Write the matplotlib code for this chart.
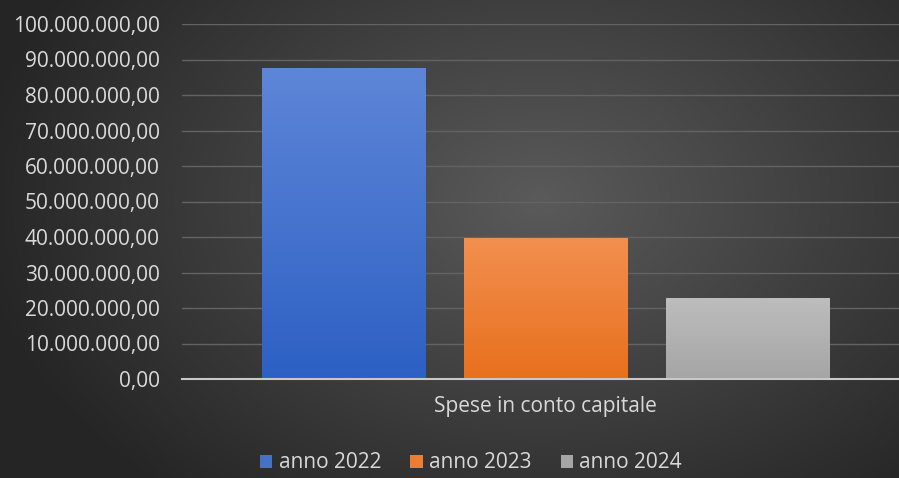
import numpy as np
import matplotlib
matplotlib.use("Agg")
import matplotlib.pyplot as plt
from matplotlib.patches import Patch
from matplotlib.ticker import FuncFormatter, MultipleLocator

categories = ["Spese in conto capitale"]
series = ["anno 2022", "anno 2023", "anno 2024"]
values = [87_600_000, 39_800_000, 22_800_000]
colors_top = ["#5e86d8", "#f28f50", "#bdbdbd"]
colors_bot = ["#2d60c4", "#e8701c", "#a5a5a5"]
legend_colors = ["#4472c4", "#ed7d31", "#a5a5a5"]

plt.rcParams['font.family'] = ['Open Sans', 'DejaVu Sans']
W, H = 899, 478
fig = plt.figure(figsize=(W / 100, H / 100), dpi=100)

# background radial gradient
bg = fig.add_axes([0, 0, 1, 1], zorder=-10)
yy, xx = np.mgrid[0:H, 0:W]
cx, cy = 540, 200
r = np.sqrt(((xx - cx) / 560) ** 2 + ((yy - cy) / 380) ** 2)
r = np.clip(r, 0, 1)
c_in = np.array([0x5a, 0x5a, 0x5a]) / 255
c_out = np.array([0x26, 0x26, 0x26]) / 255
img = c_in[None, None, :] * (1 - r[..., None]) + c_out[None, None, :] * r[..., None]
bg.imshow(img, aspect='auto', extent=[0, 1, 0, 1], origin='upper')
bg.axis('off')

ax = fig.add_axes([182 / W, (H - 379) / H, (W - 182) / W, (379 - 24) / H])
ax.patch.set_alpha(0)

x = np.arange(len(series)) - 1
width = 0.81
bars = ax.bar(x, values, width=width, color=legend_colors, zorder=3)

for b, ct, cb in zip(bars, colors_top, colors_bot):
    x0, y0 = b.get_x(), b.get_y()
    w, h = b.get_width(), b.get_height()
    grad = np.linspace(0, 1, 256)[:, None, None]
    ct_ = np.array(matplotlib.colors.to_rgb(ct))
    cb_ = np.array(matplotlib.colors.to_rgb(cb))
    g = ct_[None, None, :] * (1 - grad) + cb_[None, None, :] * grad
    im = ax.imshow(g, extent=[x0, x0 + w, y0, y0 + h], aspect='auto',
                   origin='upper', zorder=4)
    im.set_clip_path(b)

ax.set_xlim(-1.80, 1.75)
ax.set_ylim(0, 100_000_000)

def fmt(v, pos):
    s = f"{v:,.2f}"
    return s.replace(",", "X").replace(".", ",").replace("X", ".")

ax.yaxis.set_major_locator(MultipleLocator(10_000_000))
ax.yaxis.set_major_formatter(FuncFormatter(fmt))
ax.grid(axis='y', color='#636363', linewidth=1.0, zorder=0)
for s in ['top', 'right', 'left']:
    ax.spines[s].set_visible(False)
ax.spines['bottom'].set_color('#c8c8c8')
ax.spines['bottom'].set_linewidth(1.5)
ax.spines['bottom'].set_zorder(5)
ax.tick_params(axis='y', length=0, pad=16, labelsize=15, labelcolor='#d9d9d9')
ax.tick_params(axis='x', length=0)
ax.set_xticks([0])
ax.set_xticklabels(categories, fontsize=15, color='#d9d9d9')
ax.tick_params(axis='x', pad=12)

handles = [Patch(facecolor=c, edgecolor='none') for c in legend_colors]
fig.legend(handles, series, loc='center', bbox_to_anchor=(471 / W, (H - 463) / H),
           ncol=3, frameon=False, fontsize=15, labelcolor='#d9d9d9',
           handlelength=0.6, handleheight=0.6, handletextpad=0.3, columnspacing=1.4)

fig.savefig("out.png", dpi=100)
